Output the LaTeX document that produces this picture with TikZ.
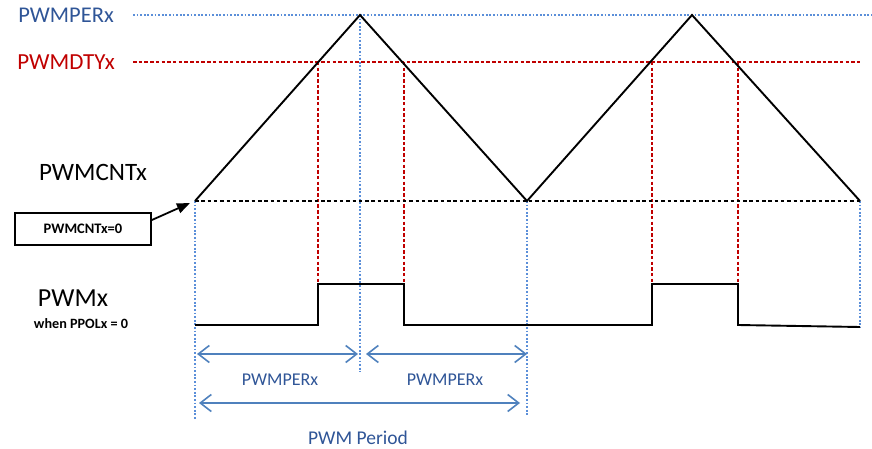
\documentclass[tikz,border=0pt]{standalone}
\usepackage{fontspec}
\setmainfont{Carlito}
\usetikzlibrary{arrows.meta}
\definecolor{perblue}{HTML}{2F5597}
\definecolor{dotblue}{HTML}{5B8FD9}
\definecolor{dtyred}{HTML}{C00000}
\definecolor{arrblue}{HTML}{4F81BD}
\begin{document}
\begin{tikzpicture}[x=1pt,y=-1pt,
  bluedot/.style={dotblue, line width=1.9pt, dash pattern=on 1.8pt off 1.8pt},
  reddash/.style={dtyred, line width=1.9pt, dash pattern=on 3.5pt off 2.2pt},
  blackdash/.style={black, line width=1.8pt, dash pattern=on 3.5pt off 2.8pt},
  wave/.style={black, line width=1.9pt},
  span/.style={arrblue, line width=1.6pt, {Straight Barb[length=11pt,width=17pt]}-{Straight Barb[length=11pt,width=17pt]}},
  lbl/.style={inner sep=0pt, anchor=center}]
\useasboundingbox (0,0) rectangle (872,449);

% level and edge markers
\coordinate (p0) at (195,201);
\coordinate (t1) at (360,15);
\coordinate (p1) at (527,201);
\coordinate (t2) at (692,15);
\coordinate (p2) at (860,201);

\draw[bluedot] (133,15) -- (872,15);
\draw[reddash] (133,62) -- (862,62);

% duty-cycle crossings
\foreach \x in {318,404,652,738}
  \draw[reddash] (\x,62) -- (\x,284);

% period markers
\draw[bluedot] (195,201) -- (195,420);
\draw[bluedot] (360,15) -- (360,372);
\draw[bluedot] (527,201) -- (527,415);
\draw[bluedot] (860,201) -- (860,328);

% counter baseline
\draw[blackdash] (p0) -- (p2);

% up/down counter
\draw[wave, line join=miter] (p0) -- (t1) -- (p1) -- (t2) -- (p2);

% PWM output
\draw[wave] (195,325) -- (318,325) -- (318,284) -- (404,284) -- (404,325)
  -- (652,325) -- (652,284) -- (738,284) -- (738,325) -- (860,327);

% labels
\node[lbl, text=perblue, font=\fontsize{22.5}{26}\selectfont] (lper) at (66,15) {PWMPERx};
\node[lbl, text=dtyred, font=\fontsize{23}{27}\selectfont] (ldty) at (66,62) {PWMDTYx};
\node[lbl, font=\fontsize{25}{30}\selectfont] (lcnt) at (93,172) {PWMCNTx};
\node[draw, line width=1.8pt, minimum width=136pt, minimum height=32pt, inner sep=0pt,
  font=\bfseries\fontsize{14.5}{17}\selectfont] (zbox) at (83,229) {PWMCNTx=0};
\draw[black, line width=1.8pt, -{Triangle[length=13pt,width=10pt]}] (zbox.east |- 0,220) -- (190,203);
\node[lbl, font=\fontsize{26}{31}\selectfont] (lpwm) at (73,298) {PWMx};
\node[lbl, font=\bfseries\fontsize{14.2}{17}\selectfont] (lpol) at (81,324) {when PPOLx = 0};

% spans
\coordinate (a1) at (197,354);
\coordinate (a2) at (358,354);
\coordinate (a3) at (366,354);
\coordinate (a4) at (527,354);
\coordinate (b1) at (199,403);
\coordinate (b2) at (520,403);
\draw[span] (a1) -- (a2);
\draw[span] (a3) -- (a4);
\draw[span] (b1) -- (b2);
\node[lbl, text=perblue, font=\fontsize{18}{21}\selectfont] (s1) at (280,380) {PWMPERx};
\node[lbl, text=perblue, font=\fontsize{18}{21}\selectfont] (s2) at (445,380) {PWMPERx};
\node[lbl, text=perblue, font=\fontsize{19.5}{23}\selectfont] (s3) at (358,438) {PWM Period};
\end{tikzpicture}
\end{document}
